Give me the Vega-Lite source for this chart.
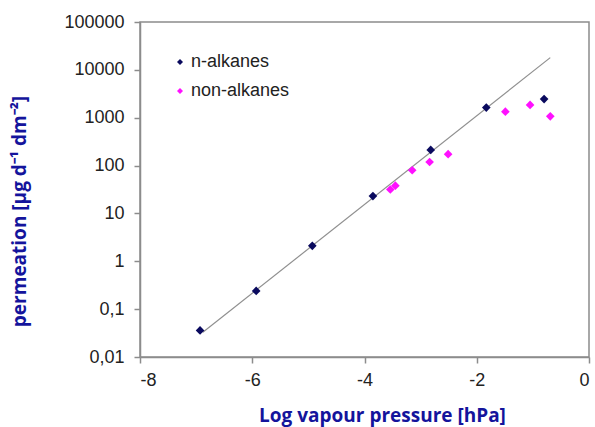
{
  "$schema": "https://vega.github.io/schema/vega-lite/v6.json",
  "width": 449,
  "height": 335,
  "autosize": {"type": "none"},
  "padding": {"left": 140, "top": 22, "right": 6, "bottom": 70},
  "background": "white",
  "config": {
    "view": {"stroke": "#8c8c8c", "strokeWidth": 1.5},
    "font": "Liberation Sans"
  },
  "layer": [
    {
      "data": {"values": [
        {"x": -6.88, "y": 0.033},
        {"x": -0.69, "y": 18000}
      ]},
      "mark": {"type": "line", "color": "#8f8f8f", "strokeWidth": 1.2},
      "encoding": {
        "x": {"field": "x", "type": "quantitative"},
        "y": {"field": "y", "type": "quantitative"}
      }
    },
    {
      "data": {"values": [
        {"series": "n-alkanes", "x": -6.93, "y": 0.036},
        {"series": "n-alkanes", "x": -5.93, "y": 0.24},
        {"series": "n-alkanes", "x": -4.93, "y": 2.1},
        {"series": "n-alkanes", "x": -3.85, "y": 23},
        {"series": "n-alkanes", "x": -2.82, "y": 212},
        {"series": "n-alkanes", "x": -1.83, "y": 1630},
        {"series": "n-alkanes", "x": -0.8, "y": 2450},
        {"series": "non-alkanes", "x": -3.54, "y": 31.6},
        {"series": "non-alkanes", "x": -3.45, "y": 38},
        {"series": "non-alkanes", "x": -3.15, "y": 80},
        {"series": "non-alkanes", "x": -2.84, "y": 119},
        {"series": "non-alkanes", "x": -2.51, "y": 173},
        {"series": "non-alkanes", "x": -1.49, "y": 1340},
        {"series": "non-alkanes", "x": -1.05, "y": 1850},
        {"series": "non-alkanes", "x": -0.69, "y": 1070}
      ]},
      "mark": {"type": "point", "shape": "diamond", "filled": true, "size": 75, "opacity": 1},
      "encoding": {
        "x": {
          "field": "x", "type": "quantitative",
          "scale": {"domain": [-8, 0], "nice": false, "zero": false},
          "axis": {
            "title": "Log vapour pressure [hPa]",
            "values": [-8, -6, -4, -2, 0],
            "labelExpr": "toString(datum.value)",
            "grid": false,
            "domainColor": "#8c8c8c", "domainWidth": 1.5,
            "tickColor": "#8c8c8c", "tickSize": 6, "tickWidth": 1.5,
            "labelFontSize": 18, "labelColor": "#222222", "labelPadding": 8,
            "titleFont": "Open Sans", "titleFontSize": 19, "titleFontWeight": "bold",
            "titleColor": "#14149c",
            "titleX": 242, "titleY": 64, "titleBaseline": "alphabetic"
          }
        },
        "y": {
          "field": "y", "type": "quantitative",
          "scale": {"type": "log", "domain": [0.01, 100000], "nice": false},
          "axis": {
            "title": "permeation [µg d⁻¹ dm⁻²]",
            "values": [0.01, 0.1, 1, 10, 100, 1000, 10000, 100000],
            "labelExpr": "replace(toString(datum.value), '.', ',')",
            "grid": false,
            "domainColor": "#8c8c8c", "domainWidth": 1.5,
            "tickColor": "#8c8c8c", "tickSize": 6, "tickWidth": 1.5,
            "labelFontSize": 18, "labelColor": "#222222", "labelPadding": 10,
            "titleFont": "Open Sans", "titleFontSize": 19, "titleFontWeight": "bold",
            "titleColor": "#14149c",
            "titleX": -114.5, "titleY": 189, "titleAngle": -90, "titleBaseline": "alphabetic"
          }
        },
        "color": {
          "field": "series", "type": "nominal",
          "scale": {"domain": ["n-alkanes", "non-alkanes"], "range": ["#0a0a5e", "#ff10ff"]},
          "legend": {
            "title": null,
            "orient": "none",
            "legendX": 31,
            "legendY": 31,
            "padding": 0,
            "symbolType": "diamond",
            "symbolSize": 36,
            "symbolOpacity": 1,
            "labelFontSize": 18,
            "labelColor": "#222222",
            "labelOffset": 2,
            "rowPadding": 11
          }
        }
      }
    }
  ]
}
